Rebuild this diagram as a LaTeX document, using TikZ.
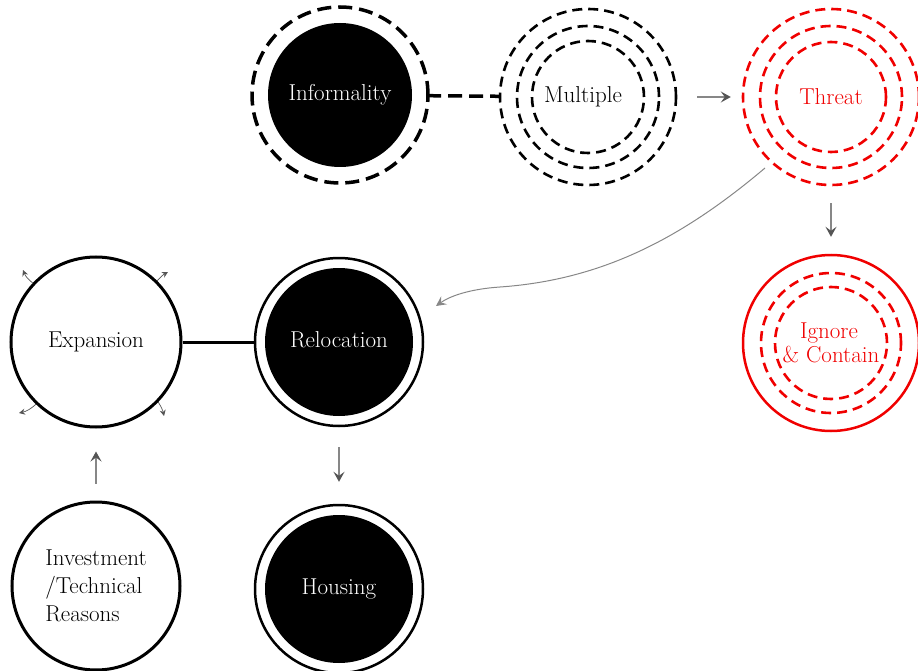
\documentclass[tikz,border=0pt]{standalone}
\usetikzlibrary{arrows.meta}
\definecolor{tred}{RGB}{240,0,0}
\definecolor{agray}{RGB}{135,135,135}
\definecolor{hgray}{RGB}{85,85,85}
\begin{document}
\begin{tikzpicture}[x=1pt,y=-1pt,
  lab/.style={font=\fontsize{23}{30}\selectfont},
  blackdisc/.style={circle, fill=black, text=white, minimum size=#1, inner sep=0pt, lab},
  whitedisc/.style={circle, draw=black, line width=3pt, minimum size=#1, inner sep=0pt, lab},
  plain/.style={circle, minimum size=#1, inner sep=0pt, lab},
  bigdash/.style={line width=3.5pt, dash pattern=on 14pt off 7pt},
  middash/.style={line width=2.6pt, dash pattern=on 10pt off 6pt},
  ringline/.style={line width=2.5pt},
  flowarrow/.style={draw=agray, line width=1.5pt, -{Stealth[length=10pt,width=11pt,inset=4pt,color=hgray]}},
  curvearrow/.style={draw=agray, line width=1pt, -{Stealth[length=10pt,width=10pt,inset=4pt]}},
  smallarrow/.style={draw=hgray, line width=0.7pt, -{Stealth[length=6pt,width=6pt]}}
]
\useasboundingbox (0,0) rectangle (918,671);

% Informality
\node[blackdisc=144] (inf) at (340,95) {Informality};
\draw[bigdash] (inf.center) circle (88pt);

% Multiple
\node[plain=112] (mul) at (588,97) {\hspace*{-10pt}Multiple};
\draw[middash] (mul.center) circle (56pt);
\draw[middash] (mul.center) circle (71pt);
\draw[middash] (mul.center) circle (88pt);

% Threat
\node[plain=110, text=tred] (thr) at (831,97) {Threat};
\draw[middash, tred] (thr.center) circle (55pt);
\draw[middash, tred] (thr.center) circle (71pt);
\draw[middash, tred] (thr.center) circle (88pt);

% Ignore & Contain
\node[plain=112, text=tred, align=center] (ign) at (831,343) {\hspace*{-4pt}Ignore\\[-6pt]\& Contain};
\draw[middash, tred] (ign.center) circle (56pt);
\draw[middash, tred] (ign.center) circle (70pt);
\draw[ringline, tred] (ign.center) circle (88pt);

% Expansion
\node[whitedisc=170] (exp) at (96,342) {Expansion};

% Relocation
\node[blackdisc=148] (rel) at (339,342) {Relocation\vphantom{p}};
\draw[ringline] (rel.center) circle (84pt);

% Housing
\node[blackdisc=148] (hou) at (339,589) {Housing};
\draw[ringline] (hou.center) circle (84pt);

% Investment
\node[whitedisc=168, align=left] (inv) at (96,586) {Investment\\[-2pt]/Technical\\[-2pt]Reasons};

% connectors
\draw[bigdash, shorten <=15pt, shorten >=32pt] (inf) -- (mul);
\draw[flowarrow, shorten <=53pt, shorten >=45pt] (mul) -- (thr);
\draw[flowarrow, shorten <=51pt, shorten >=50pt] (thr) -- (ign);
\draw[curvearrow] ([xshift=-66pt,yshift=-71pt]thr.center) .. controls (680,240) and (600,280) .. (500,287) .. controls (470,289) and (450,296) .. ([xshift=97pt,yshift=36pt]rel.center);
\draw[line width=3pt, shorten >=10pt] (exp) -- (rel);
\draw[flowarrow, shorten <=31pt, shorten >=33pt] (rel) -- (hou);
\draw[flowarrow, shorten <=17pt, shorten >=23pt] (inv) -- (exp);

% expansion arrows
\coordinate (eUL) at (23,270);
\coordinate (eUR) at (168,272);
\coordinate (eLL) at (19,413);
\coordinate (eLR) at (164,416);
\draw[smallarrow] (exp.137) to[bend left=15] (eUL);
\draw[smallarrow] (exp.45) to[bend left=10] (eUR);
\draw[smallarrow] (exp.226) to[bend left=15] (eLL);
\draw[smallarrow] (exp.-44) to[bend left=10] (eLR);
\end{tikzpicture}
\end{document}
